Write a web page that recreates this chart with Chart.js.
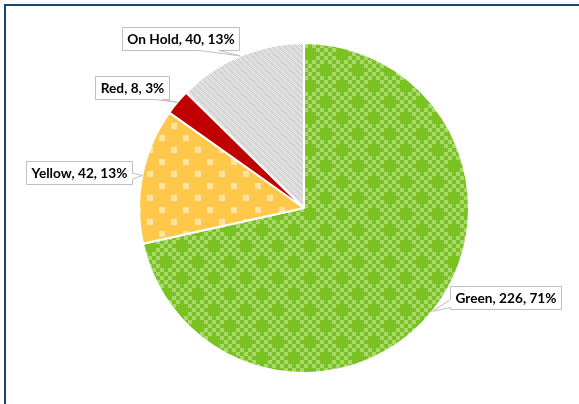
<!DOCTYPE html>
<html><head><meta charset="utf-8">
<script src="https://cdn.jsdelivr.net/npm/chart.js@4.4.0/dist/chart.umd.min.js"></script>
<style>
html,body{margin:0;padding:0;background:#fff;}
#wrap{position:relative;width:579px;height:404px;overflow:hidden;}
#frame{position:absolute;left:4px;top:4px;width:620px;height:440px;border-top:2px solid #1b4472;border-left:2px solid #1b4472;pointer-events:none;}
canvas{position:absolute;left:0;top:0;}
</style></head><body>
<div id="wrap"><canvas id="c" width="579" height="404"></canvas><div id="frame"></div></div>
<script>
// ---- data ----
const categories = ['Green', 'Yellow', 'Red', 'On Hold'];
const counts = [226, 42, 8, 40];
const percents = [71, 13, 3, 13];

// ---- label placement (offset of box centre from slice edge midpoint) ----
const labelOffsets = [[73, -14], [-63, -3], [-45, -15], [-60, -17]];
const calloutSides = ['left', 'right', 'bottom', 'bottom'];
const calloutBase = [[0.74, 4], [0.64, 3], [0.85, 4], [0.74, 10]];

function tile(w, h, fn) {
  const c = document.createElement('canvas');
  c.width = w; c.height = h;
  const g = c.getContext('2d');
  fn(g);
  return g.createPattern(c, 'repeat');
}
const ctxMain = document.getElementById('c').getContext('2d');

const greenPat = tile(32, 32, g => {
  const dark = '#7ac122', light = '#a9d86f';
  g.fillStyle = light; g.fillRect(0, 0, 32, 32);
  g.fillStyle = dark;
  for (let i = 0; i < 8; i++) for (let j = 0; j < 8; j++) {
    if ((i + j) % 2 === 0) g.fillRect(i * 4, j * 4, 4, 4);
  }
  const plus = (ci, cj) => {
    [[0,0],[1,0],[-1,0],[0,1],[0,-1]].forEach(([a,b]) => {
      const ii = (ci + a + 8) % 8, jj = (cj + b + 8) % 8;
      g.fillRect(ii * 4, jj * 4, 4, 4);
    });
  };
  plus(1, 1); plus(5, 5);
});
const yellowPat = tile(24, 24, g => {
  g.fillStyle = '#ffc84b'; g.fillRect(0, 0, 24, 24);
  g.fillStyle = '#ffe3a0';
  g.fillRect(3, 3, 6, 6);
  g.fillRect(15, 15, 6, 6);
});
const holdPat = tile(6, 6, g => {
  g.fillStyle = '#d3d3d3'; g.fillRect(0, 0, 6, 6);
  g.fillStyle = '#ebebeb';
  for (let x = 0; x < 6; x++) for (let y = 0; y < 6; y++) {
    const d = (x - y + 12) % 6;
    if (d < 3 && (x + y) % 2 === 0) g.fillRect(x, y, 1, 1);
    if (d === 0) g.fillRect(x, y, 1, 1);
  }
});

const calloutPlugin = {
  id: 'calloutLabels',
  afterDatasetsDraw(chart) {
    const ctx = chart.ctx;
    const meta = chart.getDatasetMeta(0);
    ctx.save();
    ctx.font = 'bold 13.7px Lato, "Open Sans", sans-serif';
    meta.data.forEach((arc, i) => {
      const p = arc.getProps(['x', 'y', 'startAngle', 'endAngle', 'outerRadius'], true);
      const mid = (p.startAngle + p.endAngle) / 2;
      const ax = p.x + Math.cos(mid) * p.outerRadius;
      const ay = p.y + Math.sin(mid) * p.outerRadius;
      const text = categories[i] + ', ' + counts[i] + ', ' + percents[i] + '%';
      const tw = ctx.measureText(text).width;
      const w = Math.round(tw + 10), h = 23;
      const cx = ax + labelOffsets[i][0], cy = ay + labelOffsets[i][1];
      const L = Math.round(cx - w / 2) + 0.5, T = Math.round(cy - h / 2) + 0.5;
      const R = L + w, B = T + h;
      const [f, hw] = calloutBase[i];
      ctx.beginPath();
      const side = calloutSides[i];
      if (side === 'left') {
        const m = T + f * h;
        ctx.moveTo(L, T); ctx.lineTo(R, T); ctx.lineTo(R, B); ctx.lineTo(L, B);
        ctx.lineTo(L, m + hw); ctx.lineTo(ax, ay); ctx.lineTo(L, m - hw);
      } else if (side === 'right') {
        const m = T + f * h;
        ctx.moveTo(L, T); ctx.lineTo(R, T); ctx.lineTo(R, m - hw); ctx.lineTo(ax, ay);
        ctx.lineTo(R, m + hw); ctx.lineTo(R, B); ctx.lineTo(L, B);
      } else {
        const m = L + f * w;
        ctx.moveTo(L, T); ctx.lineTo(R, T); ctx.lineTo(R, B); ctx.lineTo(m + hw, B);
        ctx.lineTo(ax, ay); ctx.lineTo(m - hw, B); ctx.lineTo(L, B);
      }
      ctx.closePath();
      ctx.fillStyle = '#ffffff';
      ctx.fill();
      ctx.lineWidth = 1;
      ctx.strokeStyle = '#bfbfbf';
      ctx.stroke();
      ctx.fillStyle = '#000000';
      ctx.textAlign = 'center';
      ctx.textBaseline = 'middle';
      ctx.fillText(text, (L + R) / 2, (T + B) / 2 + 0.5);
    });
    ctx.restore();
  }
};

new Chart(ctxMain, {
  type: 'pie',
  data: {
    labels: categories,
    datasets: [{
      data: counts,
      backgroundColor: [greenPat, yellowPat, '#c00000', holdPat],
      borderColor: '#ffffff',
      borderWidth: 2,
      radius: 165
    }]
  },
  options: {
    responsive: false,
    animation: false,
    events: [],
    layout: { padding: { left: 100, right: 71, top: 43, bottom: 31 } },
    plugins: { legend: { display: false }, tooltip: { enabled: false } }
  },
  plugins: [calloutPlugin]
});
</script>
</body></html>
